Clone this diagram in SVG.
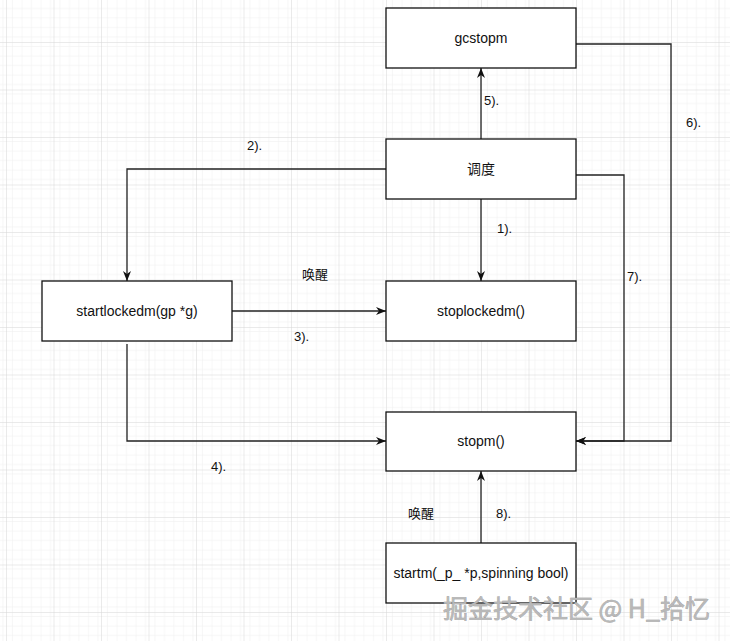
<svg xmlns="http://www.w3.org/2000/svg" width="730" height="641" viewBox="0 0 730 641">
<defs>
<pattern id="minor" patternUnits="userSpaceOnUse" x="6" y="42" width="9.5" height="9.5">
<path d="M0 0H9.5M0 0V9.5" fill="none" stroke="#eeeeee" stroke-width="1"/>
</pattern>
<pattern id="major" patternUnits="userSpaceOnUse" x="6" y="42" width="47.5" height="47.5">
<rect width="47.5" height="47.5" fill="url(#minor)"/>
<path d="M0 0H47.5M0 0V47.5" fill="none" stroke="#d6d6d6" stroke-width="1"/>
</pattern>
<marker id="arr" viewBox="0 0 10 8" refX="10" refY="4" markerWidth="10" markerHeight="8" markerUnits="userSpaceOnUse" orient="auto">
<path d="M0,0 L10,4 L0,8 L3,4 z" fill="#111"/>
</marker>
<style>
.box{fill:#fff;stroke:#111;stroke-width:1.3}
.t{font-family:"Liberation Sans","Noto Sans CJK SC",sans-serif;font-size:14px;fill:#111;text-anchor:middle;dominant-baseline:central}
.l{font-family:"Liberation Sans","Noto Sans CJK SC",sans-serif;font-size:13px;fill:#111;dominant-baseline:central}
.c{fill:none;stroke:#222;stroke-width:1.3}
.wm{font-family:"Noto Sans CJK SC",sans-serif;font-size:25px;fill:#b8b8b8;stroke:#8a8a8a;stroke-width:0.5;paint-order:stroke;dominant-baseline:central}
</style>
</defs>
<rect width="730" height="641" fill="#fff"/>
<rect width="730" height="641" fill="url(#major)"/>

<g id="connectors">
<path class="c" d="M481 199V281" marker-end="url(#arr)"/>
<path class="c" d="M386 169H127V281" marker-end="url(#arr)"/>
<path class="c" d="M232 311H386" marker-end="url(#arr)"/>
<path class="c" d="M127 344V441H386" marker-end="url(#arr)"/>
<path class="c" d="M481 139V68" marker-end="url(#arr)"/>
<path class="c" d="M576 44H671V441H576" marker-end="url(#arr)"/>
<path class="c" d="M576 175H624V441H576" marker-end="url(#arr)"/>
<path class="c" d="M481 543V471" marker-end="url(#arr)"/>
</g>

<g id="labels">
<text class="l" x="247" y="145">2).</text>
<text class="l" x="497" y="228">1).</text>
<text class="l" x="484" y="100">5).</text>
<text class="l" x="686" y="122">6).</text>
<text class="l" x="315" y="274" text-anchor="middle">唤醒</text>
<text class="l" x="294" y="336">3).</text>
<text class="l" x="627" y="276">7).</text>
<text class="l" x="211" y="466">4).</text>
<text class="l" x="421" y="513" text-anchor="middle">唤醒</text>
<text class="l" x="496" y="513">8).</text>
</g>

<g id="gcstopm"><rect class="box" x="386" y="8" width="190" height="60"/><text class="t" x="481" y="38">gcstopm</text></g>
<g id="schedule"><rect class="box" x="386" y="139" width="190" height="60"/><text class="t" x="481" y="169">调度</text></g>
<g id="startlockedm"><rect class="box" x="42" y="281" width="190" height="60"/><text class="t" x="137" y="311">startlockedm(gp *g)</text></g>
<g id="stoplockedm"><rect class="box" x="386" y="281" width="190" height="60"/><text class="t" x="481" y="311">stoplockedm()</text></g>
<g id="stopm"><rect class="box" x="386" y="412" width="190" height="59"/><text class="t" x="481" y="441">stopm()</text></g>
<g id="startm"><rect class="box" x="386" y="543" width="190" height="60"/><text class="t" x="481" y="573">startm(_p_ *p,spinning bool)</text></g>

<text class="wm" x="443" y="607">掘金技术社区 @ H_拾忆</text>
</svg>
